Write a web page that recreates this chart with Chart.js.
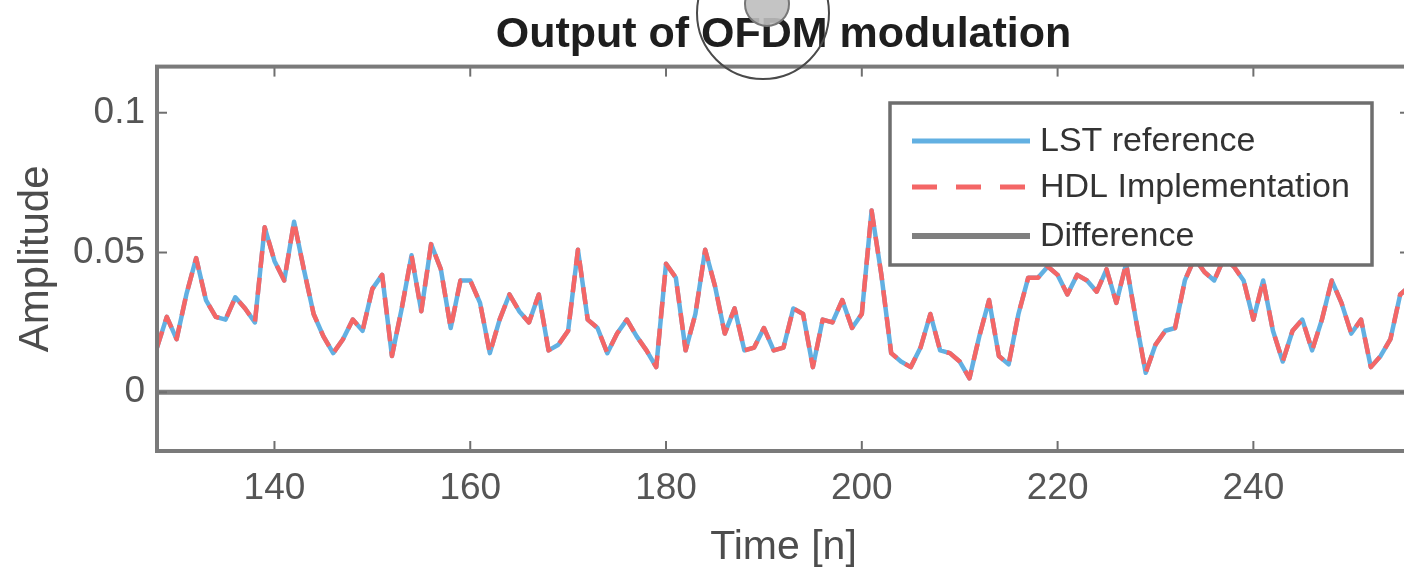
<!DOCTYPE html>
<html>
<head>
<meta charset="utf-8">
<script src="https://cdn.jsdelivr.net/npm/chart.js@4.4.0/dist/chart.umd.min.js"></script>
<style>
html,body{margin:0;padding:0;background:#fff;overflow:hidden;width:1404px;height:575px}
#wrap{width:1410px;height:575px}
canvas{display:block}
</style>
</head>
<body>
<div id="wrap"><canvas id="c" width="1410" height="575"></canvas></div>
<script>
// ---- data ----
const sampleIndex = [128,129,130,131,132,133,134,135,136,137,138,139,140,141,142,143,144,145,146,147,148,149,150,151,152,153,154,155,156,157,158,159,160,161,162,163,164,165,166,167,168,169,170,171,172,173,174,175,176,177,178,179,180,181,182,183,184,185,186,187,188,189,190,191,192,193,194,195,196,197,198,199,200,201,202,203,204,205,206,207,208,209,210,211,212,213,214,215,216,217,218,219,220,221,222,223,224,225,226,227,228,229,230,231,232,233,234,235,236,237,238,239,240,241,242,243,244,245,246,247,248,249,250,251,252,253,254,255,256];

const lstReference = [0.016,0.027,0.019,0.035,0.048,0.033,0.027,0.026,0.034,0.030,0.025,0.059,0.047,0.040,0.061,0.044,0.028,0.020,0.014,0.019,0.026,0.022,0.037,0.042,0.013,0.030,0.049,0.029,0.053,0.044,0.023,0.040,0.040,0.032,0.014,0.026,0.035,0.029,0.025,0.035,0.015,0.017,0.022,0.051,0.026,0.023,0.014,0.021,0.026,0.020,0.015,0.009,0.046,0.041,0.015,0.028,0.051,0.038,0.021,0.030,0.015,0.016,0.023,0.015,0.016,0.030,0.028,0.009,0.026,0.025,0.033,0.023,0.028,0.065,0.042,0.014,0.011,0.009,0.016,0.028,0.015,0.014,0.011,0.005,0.020,0.033,0.013,0.010,0.028,0.041,0.041,0.045,0.042,0.035,0.042,0.040,0.036,0.044,0.032,0.046,0.026,0.007,0.017,0.022,0.023,0.040,0.048,0.043,0.040,0.048,0.045,0.040,0.026,0.040,0.022,0.011,0.022,0.026,0.015,0.026,0.040,0.032,0.021,0.026,0.009,0.013,0.019,0.035,0.038];

const hdlImplementation = [0.016,0.027,0.019,0.035,0.048,0.033,0.027,0.026,0.034,0.030,0.025,0.059,0.047,0.040,0.061,0.044,0.028,0.020,0.014,0.019,0.026,0.022,0.037,0.042,0.013,0.030,0.049,0.029,0.053,0.044,0.023,0.040,0.040,0.032,0.014,0.026,0.035,0.029,0.025,0.035,0.015,0.017,0.022,0.051,0.026,0.023,0.014,0.021,0.026,0.020,0.015,0.009,0.046,0.041,0.015,0.028,0.051,0.038,0.021,0.030,0.015,0.016,0.023,0.015,0.016,0.030,0.028,0.009,0.026,0.025,0.033,0.023,0.028,0.065,0.042,0.014,0.011,0.009,0.016,0.028,0.015,0.014,0.011,0.005,0.020,0.033,0.013,0.010,0.028,0.041,0.041,0.045,0.042,0.035,0.042,0.040,0.036,0.044,0.032,0.046,0.026,0.007,0.017,0.022,0.023,0.040,0.048,0.043,0.040,0.048,0.045,0.040,0.026,0.040,0.022,0.011,0.022,0.026,0.015,0.026,0.040,0.032,0.021,0.026,0.009,0.013,0.019,0.035,0.038];

const difference = [0,0,0,0,0,0,0,0,0,0,0,0,0,0,0,0,0,0,0,0,0,0,0,0,0,0,0,0,0,0,0,0,0,0,0,0,0,0,0,0,0,0,0,0,0,0,0,0,0,0,0,0,0,0,0,0,0,0,0,0,0,0,0,0,0,0,0,0,0,0,0,0,0,0,0,0,0,0,0,0,0,0,0,0,0,0,0,0,0,0,0,0,0,0,0,0,0,0,0,0,0,0,0,0,0,0,0,0,0,0,0,0,0,0,0,0,0,0,0,0,0,0,0,0,0,0,0,0,0];

const xTickValues = [140,160,180,200,220,240];
const yTickValues = [0,0.05,0.1];
const yTickLabels = ['0','0.05','0.1'];
const seriesNames = ['LST reference','HDL Implementation','Difference'];

// ---- styling ----
const FONT = "'Liberation Sans', Arial, Helvetica, sans-serif";
const BLUE = '#62b0e2';
const RED = '#f46666';
const GRAY = '#7f7f7f';

function pts(vals){ return sampleIndex.map((n,i)=>({x:n, y:vals[i]})); }

const frame = {
  id:'frame',
  afterDatasetsDraw(chart){
    const {ctx, chartArea:a, scales} = chart;
    const x = scales.x, y = scales.y;
    ctx.save();
    ctx.strokeStyle = '#6f6f6f';
    ctx.lineWidth = 2;
    const seg=(x1,y1,x2,y2)=>{ctx.beginPath();ctx.moveTo(x1,y1);ctx.lineTo(x2,y2);ctx.stroke();};
    x.ticks.forEach(t=>{const p=x.getPixelForValue(t.value); seg(p,a.bottom,p,a.bottom-10); seg(p,a.top,p,a.top+10);});
    y.ticks.forEach(t=>{const p=y.getPixelForValue(t.value); seg(a.left,p,a.left+10,p); seg(a.right,p,a.right-10,p);});
    ctx.strokeStyle = '#7a7a7a';
    ctx.lineWidth = 4;
    ctx.strokeRect(a.left, a.top, a.right-a.left, a.bottom-a.top);
    ctx.restore();
  },
  afterDraw(chart){
    const ctx = chart.ctx;
    const ds = chart.data.datasets;
    ctx.save();
    // legend box
    const bx=890, by=103, bw=482, bh=162;
    ctx.fillStyle='#ffffff';
    ctx.fillRect(bx,by,bw,bh);
    ctx.strokeStyle='#6e6e6e';
    ctx.lineWidth=3.5;
    ctx.strokeRect(bx,by,bw,bh);
    const rows=[141,187,236];
    ds.forEach((d,i)=>{
      ctx.beginPath();
      ctx.strokeStyle=d.borderColor;
      ctx.lineWidth=d.legendWidth;
      ctx.setLineDash(d.legendDash||[]);
      ctx.moveTo(912,rows[i]);ctx.lineTo(1030,rows[i]);ctx.stroke();
      ctx.setLineDash([]);
      ctx.fillStyle='#333333';
      ctx.font="34px "+FONT;
      ctx.textBaseline='middle';
      ctx.textAlign='left';
      ctx.fillText(d.label,1040,rows[i]+1);
    });
    // screen-capture annotation around the title
    ctx.beginPath();
    ctx.arc(767,4,22,0,Math.PI*2);
    ctx.fillStyle='rgba(190,190,190,0.9)';
    ctx.fill();
    ctx.strokeStyle='#777';ctx.lineWidth=2;ctx.stroke();
    ctx.beginPath();
    ctx.arc(763,13,66,0,Math.PI*2);
    ctx.strokeStyle='#4a4a4a';ctx.lineWidth=2;ctx.stroke();
    ctx.restore();
  }
};

new Chart(document.getElementById('c'), {
  type:'line',
  data:{
    datasets:[
      {label:seriesNames[0], data:pts(lstReference), borderColor:BLUE, borderWidth:4.5, borderJoinStyle:'round', pointRadius:0, tension:0, order:3, legendWidth:5},
      {label:seriesNames[1], data:pts(hdlImplementation), borderColor:RED, borderWidth:4.5, borderJoinStyle:'round', borderDash:[17,10], pointRadius:0, tension:0, order:2, legendWidth:5, legendDash:[25,19]},
      {label:seriesNames[2], data:pts(difference), borderColor:GRAY, borderWidth:5, pointRadius:0, tension:0, order:1, legendWidth:6}
    ]
  },
  options:{
    responsive:false,
    animation:false,
    events:[],
    layout:{padding:0},
    plugins:{
      legend:{display:false},
      tooltip:{enabled:false},
      title:{display:true, fullSize:false, text:'Output of OFDM modulation', color:'#1e1e1e',
             font:{family:FONT, size:43, weight:'bold', lineHeight:1.2}, padding:{top:9,bottom:6}}
    },
    scales:{
      x:{type:'linear', min:128, max:256, position:'bottom',
         grid:{display:false, drawTicks:false}, border:{display:false},
         afterBuildTicks:(s)=>{ s.ticks = xTickValues.map(v=>({value:v})); },
         afterFit:(s)=>{ s.height = 124; },
         ticks:{color:'#555555', font:{family:FONT, size:37}, padding:16, maxRotation:0, autoSkip:false,
                callback:(v)=>String(v)},
         title:{display:true, text:'Time [n]', color:'#4d4d4d', font:{family:FONT, size:41}, padding:{top:3,bottom:3}}
      },
      y:{type:'linear', min:-0.021, max:0.1165, position:'left',
         grid:{display:false, drawTicks:false}, border:{display:false},
         afterBuildTicks:(s)=>{ s.ticks = yTickValues.map(v=>({value:v})); },
         afterFit:(s)=>{ s.width = 157; },
         ticks:{color:'#555555', font:{family:FONT, size:37}, padding:12, autoSkip:false,
                callback:(v)=>{ const k=yTickValues.indexOf(v); return k>=0?yTickLabels[k]:''; }},
         title:{display:true, text:'Amplitude', color:'#4d4d4d', font:{family:FONT, size:42}, padding:{top:11,bottom:11}}
      }
    }
  },
  plugins:[frame]
});
</script>
</body>
</html>
